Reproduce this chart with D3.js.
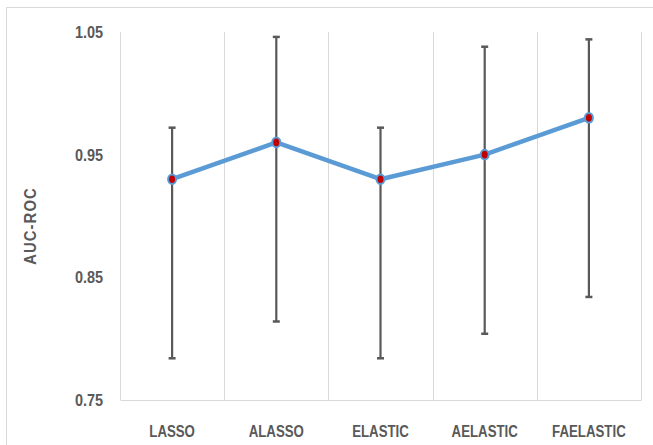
<!DOCTYPE html>
<html>
<head>
<meta charset="utf-8">
<script src="https://cdn.jsdelivr.net/npm/d3@7"></script>
<style>
  body { margin: 0; background: #fff; }
  text { font-family: "Liberation Sans", Arial, sans-serif; font-weight: bold; fill: #595959; }
</style>
</head>
<body>
<div id="chart"></div>
<script>
// data
var methods = ["LASSO", "ALASSO", "ELASTIC", "AELASTIC", "FAELASTIC"];
var auc = [0.930, 0.960, 0.930, 0.950, 0.980];
var aucLow = [0.784, 0.814, 0.784, 0.804, 0.834];
var aucHigh = [0.972, 1.046, 0.972, 1.038, 1.044];
var yTicks = [0.75, 0.85, 0.95, 1.05];

var svgWidth = 653;
var svgHeight = 445;
var margin = { top: 32, right: 12, bottom: 45, left: 120 };
var width = svgWidth - margin.left - margin.right;
var height = svgHeight - margin.top - margin.bottom;

var svg = d3.select("#chart").append("svg")
    .attr("width", svgWidth)
    .attr("height", svgHeight);

// outer chart border
svg.append("rect")
    .attr("x", 6.5).attr("y", 7.5)
    .attr("width", 660).attr("height", 460)
    .attr("fill", "none")
    .attr("stroke", "#d9d9d9");

var g = svg.append("g")
    .attr("transform", `translate(${margin.left}, ${margin.top})`);

var x = d3.scaleBand().domain(methods).range([0, width]);
var y = d3.scaleLinear().domain([0.75, 1.05]).range([height, 0]);

// vertical gridlines between categories
var bounds = methods.map(m => x(m)).concat([width]);
g.selectAll(".vgrid").data(bounds).enter().append("line")
    .attr("x1", d => Math.round(d) + 0.5).attr("x2", d => Math.round(d) + 0.5)
    .attr("y1", 0).attr("y2", height)
    .attr("stroke", "#d9d9d9");

// bottom axis
var xAxis = g.append("g")
    .attr("transform", `translate(0, ${height})`)
    .call(d3.axisBottom(x).tickSize(0).tickPadding(25));
xAxis.select(".domain").attr("stroke", "#d9d9d9");
xAxis.selectAll("text").attr("font-size", 17).attr("fill", "#595959")
    .style("font-family", null)
    .attr("transform", "scale(0.78,1)"); // narrow like calibri

// left axis (labels only)
var yAxis = g.append("g")
    .call(d3.axisLeft(y).tickValues(yTicks).tickFormat(d3.format(".2f")).tickSize(0).tickPadding(20));
yAxis.select(".domain").remove();
yAxis.selectAll("text").attr("font-size", 17).attr("fill", "#595959")
    .attr("transform", "scale(0.85,1)");

// y label
svg.append("text")
    .attr("transform", `translate(36, ${margin.top + height / 2 + 10}) rotate(-90) scale(0.9,1)`)
    .attr("text-anchor", "middle")
    .attr("font-size", 16.5)
    .attr("letter-spacing", 1.2)
    .text("AUC-ROC");

var cx = d => x(d) + x.bandwidth() / 2;

// error bars
var eb = g.selectAll(".err").data(methods).enter().append("g");
eb.append("line")
    .attr("x1", cx).attr("x2", cx)
    .attr("y1", (d, i) => y(aucHigh[i]))
    .attr("y2", (d, i) => y(aucLow[i]))
    .attr("stroke", "#595959").attr("stroke-width", 2.2);
eb.append("line")
    .attr("x1", d => cx(d) - 3.5).attr("x2", d => cx(d) + 3.5)
    .attr("y1", (d, i) => y(aucHigh[i])).attr("y2", (d, i) => y(aucHigh[i]))
    .attr("stroke", "#595959").attr("stroke-width", 2.5);
eb.append("line")
    .attr("x1", d => cx(d) - 3.5).attr("x2", d => cx(d) + 3.5)
    .attr("y1", (d, i) => y(aucLow[i])).attr("y2", (d, i) => y(aucLow[i]))
    .attr("stroke", "#595959").attr("stroke-width", 2.5);

// the line
var line = d3.line()
    .x((d, i) => cx(methods[i]))
    .y(d => y(d));
g.append("path")
    .datum(auc)
    .attr("d", line)
    .attr("fill", "none")
    .attr("stroke", "#5b9bd5")
    .attr("stroke-width", 4.5)
    .attr("stroke-linejoin", "round");

// points
g.selectAll(".pt").data(auc).enter().append("ellipse")
    .attr("cx", (d, i) => cx(methods[i]))
    .attr("cy", d => y(d))
    .attr("rx", 4).attr("ry", 4.8)
    .attr("fill", "#c00000")
    .attr("stroke", "#5b9bd5")
    .attr("stroke-width", 2);
</script>
</body>
</html>
